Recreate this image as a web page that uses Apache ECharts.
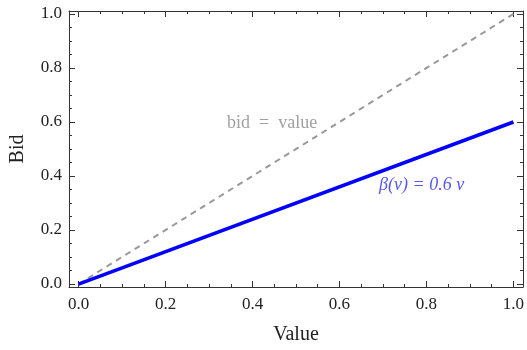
<!DOCTYPE html>
<html>
<head>
<meta charset="utf-8">
<script src="https://cdn.jsdelivr.net/npm/echarts@6/dist/echarts.min.js"></script>
<style>
  html, body { margin: 0; padding: 0; background: #fff; }
  #main { width: 527px; height: 350px; }
</style>
</head>
<body>
<div id="main"></div>
<script>
// data
var valuePoints = [0, 1];
var bidEqualsValue = [0, 1];
var bidStrategy = [0, 0.6];
var majorTicks = [0, 0.2, 0.4, 0.6, 0.8, 1.0];
var minorTicks = [0.05, 0.1, 0.15, 0.25, 0.3, 0.35, 0.45, 0.5, 0.55, 0.65, 0.7, 0.75, 0.85, 0.9, 0.95];
// where the two annotations sit (data coords)
var bidLabelAt = [0.445, 0.596];
var betaLabelAt = [0.789, 0.364];

var font = 'Liberation Serif';
var frameColor = '#333';

function pairs(xs, ys) {
  return xs.map(function (x, i) { return [x, ys[i]]; });
}

function makeAxis(pos, major, extra) {
  var ax = {
    type: 'value',
    position: pos,
    min: -0.022,
    max: 1.022,
    splitLine: { show: false },
    axisLine: { show: major, onZero: false, lineStyle: { color: frameColor, width: 1 } },
    axisTick: {
      show: true,
      inside: true,
      length: major ? 6 : 3,
      customValues: major ? majorTicks : minorTicks,
      lineStyle: { color: frameColor, width: 1 }
    },
    axisLabel: { show: false }
  };
  for (var k in extra) ax[k] = extra[k];
  return ax;
}

function tickLabels(margin) {
  return {
    show: true, customValues: majorTicks, margin: margin,
    formatter: function (v) { return v.toFixed(1); },
    fontFamily: font, fontSize: 17, color: '#222'
  };
}

var yr = { min: -0.011, max: 1.011 };

var myChart = echarts.init(document.getElementById('main'));
myChart.setOption({
  animation: false,
  grid: { left: 67, right: 2, top: 11, bottom: 58 },
  xAxis: [
    makeAxis('bottom', true, {
      name: 'Value', nameLocation: 'middle', nameGap: 38,
      nameTextStyle: { fontFamily: font, fontSize: 20, color: '#222' },
      axisLabel: tickLabels(9)
    }),
    makeAxis('bottom', false, {}),
    makeAxis('top', true, {}),
    makeAxis('top', false, {})
  ],
  yAxis: [
    makeAxis('left', true, {
      min: yr.min, max: yr.max,
      name: 'Bid', nameLocation: 'middle', nameGap: 41, nameRotate: 90,
      nameTextStyle: { fontFamily: font, fontSize: 20, color: '#222' },
      axisLabel: tickLabels(7)
    }),
    makeAxis('left', false, yr),
    makeAxis('right', true, yr),
    makeAxis('right', false, yr)
  ],
  series: [
    {
      name: 'bid = value',
      type: 'line',
      data: pairs(valuePoints, bidEqualsValue),
      symbol: 'none',
      lineStyle: { color: '#999', width: 2, type: [6, 5] }
    },
    {
      name: 'beta',
      type: 'line',
      data: pairs(valuePoints, bidStrategy),
      symbol: 'none',
      lineStyle: { color: '#0000ff', width: 3.5 }
    },
    {
      type: 'scatter',
      symbolSize: 0,
      silent: true,
      data: [
        { value: bidLabelAt, label: { formatter: 'bid\u2002=\u2002value', color: '#888', fontStyle: 'normal', fontSize: 18 } },
        { value: betaLabelAt, label: { formatter: 'β(v) = 0.6 v', color: '#2a2aff', fontStyle: 'italic', fontSize: 18 } }
      ],
      label: { show: true, position: 'inside', fontFamily: font }
    }
  ]
});
</script>
</body>
</html>
